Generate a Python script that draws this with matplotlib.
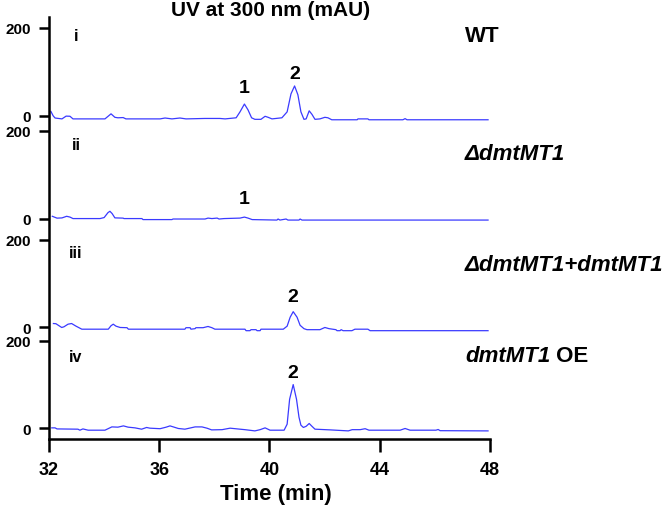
import matplotlib
matplotlib.use("Agg")
import matplotlib.pyplot as plt

plt.rcParams['font.family'] = ['Liberation Sans', 'DejaVu Sans']
plt.rcParams['font.weight'] = 'bold'

# chromatogram traces, time (min) and absorbance (mAU)
t_wt = [32.07, 32.15, 32.22, 32.47, 32.62, 32.76, 32.87, 34.03, 34.25, 34.39, 34.50, 34.69,
        34.79, 36.03, 36.21, 36.46, 36.75, 36.97, 37.66, 38.20, 38.39, 38.79, 38.93, 39.09,
        39.22, 39.35, 39.47, 39.69, 39.84, 39.95, 40.09, 40.45, 40.64, 40.78, 40.91, 41.03,
        41.14, 41.25, 41.33, 41.44, 41.54, 41.65, 41.83, 42.01, 42.12, 42.26, 43.18, 43.21,
        43.57, 43.61, 44.84, 44.92, 44.99, 47.93]
v_wt = [9.8, 0, -5, -7, -0.7, -1, -7, -7, 4.5, -3.4, -4.5, -4,
        -7, -7, -5, -7, -5, -7, -6, -6, -7, -4.5, 9, 26.8,
        13.6, -4.5, -8, -8, -1.1, -3.4, -7, -4.5, 9, 50, 68, 48,
        9, -8, -7, 11.4, 3.4, -8, -7, -3.4, -4.5, -9, -9, -7,
        -7, -9, -9, -6.4, -9, -9]

t_ko = [32.12, 32.29, 32.47, 32.64, 32.76, 32.87, 33.85, 34.00, 34.14, 34.21, 34.29, 34.39,
        34.69, 34.72, 35.37, 35.41, 36.46, 36.50, 37.66, 37.77, 37.91, 38.10, 38.17, 38.35,
        38.93, 39.09, 39.22, 39.37, 40.27, 40.31, 40.38, 40.60, 40.67, 41.07, 41.11, 41.18,
        47.93]
v_ko = [5.2, 1, 1.5, 5.2, 3.4, 0, 0, 2.3, 13.6, 16.6, 11.4, 1.6,
        1, 0, 0, -2.3, -2.3, -1, -1, 1.1, 0, 1.1, -1, 0,
        1.1, 3.4, 1.1, -2.3, -3.4, -1, -3.4, -1, -3.4, -3.4, -1, -3.4,
        -3.4]

t_comp = [32.16, 32.25, 32.46, 32.54, 32.69, 32.82, 32.98, 33.19, 34.15, 34.25, 34.33, 34.43,
          34.58, 34.83, 34.88, 36.93, 36.97, 37.12, 37.15, 37.30, 37.33, 37.59, 37.77, 37.91,
          38.02, 39.11, 39.15, 39.29, 39.33, 39.51, 39.55, 39.66, 39.69, 40.50, 40.64, 40.75,
          40.86, 41.00, 41.11, 41.25, 41.36, 41.83, 42.01, 42.16, 42.41, 42.45, 42.56, 42.60,
          42.67, 42.99, 43.10, 43.57, 43.65, 47.93]
v_comp = [9, 8.6, 0, 1.5, 7.5, 9, 3, -3.9, -3.9, 4, 7.5, 3,
          0, -0.5, -3.9, -3.9, -0.5, -0.5, -3.9, -2.7, -0.5, -0.5, 2.3, -0.5,
          -3.9, -3.9, -7.3, -7.3, -5, -5, -7.3, -7.3, -3.9, -3.9, 3, 23.4,
          36, 23.4, 5, -2.7, -5, -5, 0, -2.7, -5, -7.3, -7.3, -5,
          -7.3, -7.3, -3.9, -3.9, -7.3, -7.3]

t_oe = [32.10, 32.22, 32.29, 33.05, 33.12, 33.23, 33.42, 34.03, 34.28, 34.50, 34.70, 34.87,
        35.12, 35.36, 35.54, 35.66, 36.03, 36.25, 36.39, 36.54, 36.69, 36.93, 37.30, 37.55,
        37.73, 37.90, 38.28, 38.57, 38.93, 39.11, 39.47, 39.66, 39.84, 40.02, 40.53, 40.64,
        40.73, 40.86, 40.98, 41.07, 41.14, 41.23, 41.33, 41.44, 41.54, 41.65, 42.20, 42.86,
        43.00, 43.29, 43.47, 43.61, 44.74, 44.92, 45.10, 46.04, 46.12, 46.19, 47.93]
v_oe = [1.4, 1.4, -1, -1.6, -3.9, -1, -3.9, -3.9, 3.6, 3, 5.9, 3,
        1.4, -1.6, 2.3, 0.7, -0.5, 3, 5.9, 3, 0, -1.6, 3.6, 3.6,
        0.7, -3.2, -2.7, 0.7, -1.6, -2.7, -5.5, -2.7, 1.4, -3.9, -3.9, 9.8,
        66.6, 100, 66.6, 25.7, 7.5, 2.3, 5, 11.4, 5, -1.6, -3.2, -5.5,
        -2.7, -2.7, -0.5, -3.9, -3.9, 0, -3.9, -3.9, -2.3, -5, -5.5]

panel_ids = ["i", "ii", "iii", "iv"]
# (italic part, upright part) of each strain name
strain_it = ["", "ΔdmtMT1", "ΔdmtMT1+dmtMT1", "dmtMT1"]
strain_rm = ["WT", "", "", " OE"]
traces = [(t_wt, v_wt), (t_ko, v_ko), (t_comp, v_comp), (t_oe, v_oe)]

# vertical offset of each stacked trace (axis units, mAU)
offsets = [736, 502, 254, 24]

fig = plt.figure(figsize=(6.66, 5.06), dpi=100)
ax = fig.add_axes([0.0736, 0.1304, 0.6621, 0.834])

for (t, v), off in zip(traces, offsets):
    ax.plot(t, [y + off for y in v], color='#3a3aff', lw=0.9)

ax.set_xlim(32, 48)
ax.set_ylim(0, 961)
ax.set_xticks([32, 36, 40, 44, 48])
ax.set_xticklabels(["32", "36", "40", "44", "48"])

yt, yl = [], []
for off in offsets:
    yt += [off, off + 200]
    yl += ["0", "200"]
ax.set_yticks(yt)
ax.set_yticklabels(yl)

for s in ['top', 'right']:
    ax.spines[s].set_visible(False)
for s in ['left', 'bottom']:
    ax.spines[s].set_linewidth(1.8)
ax.tick_params(axis='y', length=7, width=1.8, pad=6, labelsize=11)
ax.tick_params(axis='x', length=9, width=1.8, pad=7, labelsize=13)
for lab in ax.get_xticklabels() + ax.get_yticklabels():
    lab.set_fontweight('bold')

# panel numerals and strain names
panel_y = [918, 670, 425, 189]
strain_y = [920, 650, 398, 191]
for pid, py, s_it, s_rm, sy in zip(panel_ids, panel_y, strain_it, strain_rm, strain_y):
    ax.text(32.98, py, pid, ha='center', va='center', fontsize=11.5, fontweight='bold')
    first = ax.text(47.09, sy, s_it if s_it else s_rm, ha='left', va='center',
                    fontsize=16, fontweight='bold',
                    fontstyle='italic' if s_it else 'normal')
    if s_it and s_rm:
        ax.annotate(s_rm, xy=(1, 0.5), xycoords=first, ha='left', va='center',
                    fontsize=16, fontweight='bold')

# peak labels
peak_t = [39.09, 40.91, 39.09, 40.86, 40.86]
peak_y = [800, 832, 548, 325, 152]
peak_lab = ["1", "2", "1", "2", "2"]
for pt, py, pl in zip(peak_t, peak_y, peak_lab):
    ax.text(pt, py, pl, ha='center', va='center', fontsize=14, fontweight='bold')

fig.text(0.407, 0.980, "UV at 300 nm (mAU)", ha='center', va='center',
         fontsize=15, fontweight='bold')
fig.text(0.414, 0.022, "Time (min)", ha='center', va='center',
         fontsize=16, fontweight='bold')

fig.savefig("out.png", dpi=100)
